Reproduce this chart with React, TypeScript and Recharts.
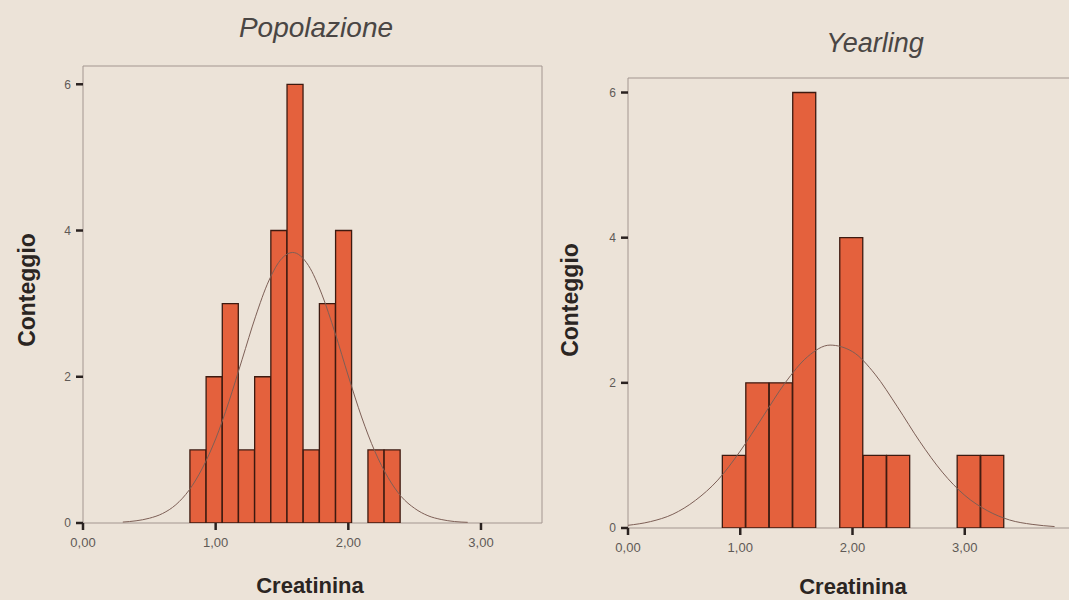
import React from 'react';
import { ComposedChart, Bar, Line, XAxis, YAxis, ReferenceArea } from 'recharts';

// ---- Popolazione ----
const popBinCenters = [0.867, 0.989, 1.111, 1.233, 1.355, 1.477, 1.599, 1.721, 1.843, 1.965, 2.087, 2.209, 2.331];
const popCounts = [1, 2, 3, 1, 2, 4, 6, 1, 3, 4, 0, 1, 1];
const popCurveX = [0.3, 0.4, 0.5, 0.6, 0.7, 0.8, 0.9, 1.0, 1.1, 1.2, 1.3, 1.4, 1.5, 1.58, 1.7, 1.8, 1.9, 2.0, 2.1, 2.2, 2.3, 2.4, 2.5, 2.6, 2.7, 2.8, 2.9];
const popCurveY = [0.013, 0.03, 0.065, 0.13, 0.25, 0.45, 0.75, 1.15, 1.66, 2.24, 2.82, 3.31, 3.62, 3.7, 3.52, 3.13, 2.6, 2.01, 1.45, 0.98, 0.62, 0.36, 0.2, 0.1, 0.048, 0.02, 0.009];

// ---- Yearling ----
const yrlBinCenters = [0.945, 1.154, 1.363, 1.572, 1.782, 1.991, 2.2, 2.409, 2.619, 2.828, 3.037, 3.247];
const yrlCounts = [1, 2, 2, 6, 0, 4, 1, 1, 0, 0, 1, 1];
const yrlCurveX = [0, 0.2, 0.4, 0.6, 0.8, 1.0, 1.2, 1.4, 1.6, 1.8, 2.0, 2.2, 2.4, 2.6, 2.8, 3.0, 3.2, 3.4, 3.6, 3.8];
const yrlCurveY = [0.037, 0.088, 0.19, 0.38, 0.66, 1.06, 1.53, 2.0, 2.36, 2.52, 2.43, 2.12, 1.67, 1.19, 0.77, 0.45, 0.24, 0.11, 0.05, 0.02];

const xTicks = [0, 1, 2, 3];
const yTicks = [0, 2, 4, 6];
const titles = ['Popolazione', 'Yearling'];
const yLabel = 'Conteggio';
const xLabel = 'Creatinina';

const BG = '#ece3d8';
const FONT = '"Liberation Sans", Arial, sans-serif';

const fmt = (v: number) => v.toFixed(2).replace('.', ',');

type PanelProps = {
  centers: number[];
  counts: number[];
  cx: number[];
  cy: number[];
  left: number;
  width: number;
  margin: { top: number; left: number; right: number; bottom: number };
  xMax: number;
  yMax: number;
};

function Panel({ centers, counts, cx, cy, left, width, margin, xMax, yMax }: PanelProps) {
  const bars = centers.map((x, i) => ({ x, count: counts[i] }));
  const curve = cx.map((x, i) => ({ x, y: cy[i] }));
  return (
    <div style={{ position: 'absolute', left, top: 0 }}>
      <ComposedChart
        width={width}
        height={600}
        data={bars}
        margin={margin}
        barCategoryGap={0}
        barGap={0}
      >
        <XAxis
          xAxisId="bins"
          type="number"
          dataKey="x"
          domain={[0, xMax]}
          ticks={xTicks}
          tickFormatter={fmt}
          allowDataOverflow
          axisLine={false}
          tickLine={{ stroke: '#2a2220', strokeWidth: 2.5 }}
          tickSize={7}
          tickMargin={8}
          height={30}
          interval={0}
          tick={{ fill: '#5f5a56', fontSize: 13, fontFamily: FONT }}
        />
        <XAxis xAxisId="curve" type="number" dataKey="x" domain={[0, xMax]} allowDataOverflow hide />
        <YAxis
          type="number"
          domain={[0, yMax]}
          ticks={yTicks}
          allowDataOverflow
          axisLine={false}
          tickLine={{ stroke: '#2a2220', strokeWidth: 2.5 }}
          tickSize={7}
          tickMargin={5}
          width={30}
          interval={0}
          tick={{ fill: '#5f5a56', fontSize: 12, fontFamily: FONT }}
        />
        <ReferenceArea
          xAxisId="bins"
          x1={0}
          x2={xMax}
          y1={0}
          y2={yMax}
          fill="none"
          stroke="#a39690"
          strokeWidth={1}
          ifOverflow="visible"
        />
        <Bar
          xAxisId="bins"
          dataKey="count"
          fill="#e4613d"
          stroke="#3d1a10"
          strokeWidth={1.3}
          isAnimationActive={false}
        />
        <Line
          xAxisId="curve"
          data={curve}
          dataKey="y"
          type="monotone"
          dot={false}
          stroke="#7d5f56"
          strokeWidth={1}
          isAnimationActive={false}
        />
      </ComposedChart>
    </div>
  );
}

export default function App() {
  return (
    <div
      style={{
        position: 'absolute',
        left: 0,
        top: 0,
        width: 1069,
        height: 600,
        overflow: 'hidden',
        background: BG,
        fontFamily: FONT,
      }}
    >
      <Panel
        centers={popBinCenters}
        counts={popCounts}
        cx={popCurveX}
        cy={popCurveY}
        left={0}
        width={560}
        margin={{ top: 66, left: 53, right: 18, bottom: 47 }}
        xMax={3.46}
        yMax={6.25}
      />
      <Panel
        centers={yrlBinCenters}
        counts={yrlCounts}
        cx={yrlCurveX}
        cy={yrlCurveY}
        left={560}
        width={520}
        margin={{ top: 78, left: 38, right: 3, bottom: 42 }}
        xMax={4}
        yMax={6.2}
      />
      <svg
        width={1069}
        height={600}
        style={{ position: 'absolute', left: 0, top: 0, pointerEvents: 'none' }}
      >
        <text x={316} y={37} textAnchor="middle" fontStyle="italic" fontSize={28} fill="#4a4644" fontFamily={FONT}>
          {titles[0]}
        </text>
        <text x={875} y={52} textAnchor="middle" fontStyle="italic" fontSize={27} fill="#4a4644" fontFamily={FONT}>
          {titles[1]}
        </text>
        <text x={35} y={290} transform="rotate(-90 35 290)" textAnchor="middle" fontWeight="bold" fontSize={23} fill="#2b2522" fontFamily={FONT}>
          {yLabel}
        </text>
        <text x={578} y={300} transform="rotate(-90 578 300)" textAnchor="middle" fontWeight="bold" fontSize={23} fill="#2b2522" fontFamily={FONT}>
          {yLabel}
        </text>
        <text x={310} y={593} textAnchor="middle" fontWeight="bold" fontSize={22} fill="#2b2522" fontFamily={FONT}>
          {xLabel}
        </text>
        <text x={853} y={594} textAnchor="middle" fontWeight="bold" fontSize={22} fill="#2b2522" fontFamily={FONT}>
          {xLabel}
        </text>
      </svg>
    </div>
  );
}
